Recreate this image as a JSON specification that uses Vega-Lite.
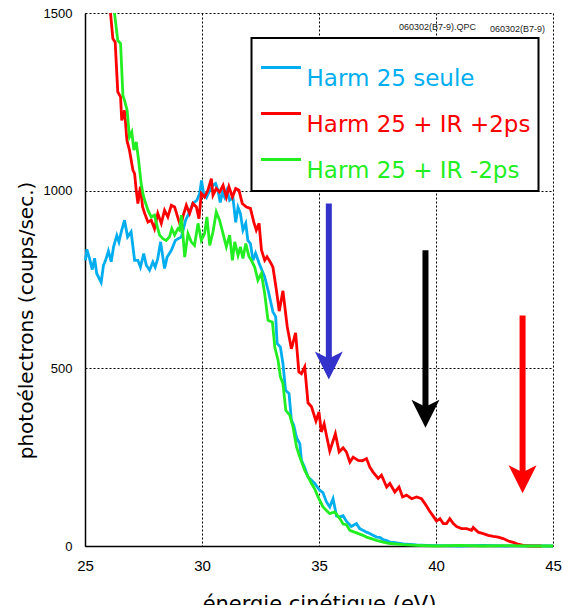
{
"$schema":"https://vega.github.io/schema/vega-lite/v6.json",
"width":468,"height":533,
"autosize":{"type":"none"},
"padding":{"left":85,"top":13,"right":10,"bottom":59},
"background":"white",
"config":{"view":{"stroke":null},"font":"DejaVu Sans"},
"datasets":{
"curves":[
{"s":"A","x":25.02,"y":804},{"s":"A","x":25.08,"y":835},{"s":"A","x":25.19,"y":810},{"s":"A","x":25.31,"y":778},{"s":"A","x":25.41,"y":810},{"s":"A","x":25.50,"y":767},{"s":"A","x":25.69,"y":742},{"s":"A","x":25.79,"y":790},{"s":"A","x":25.88,"y":804},{"s":"A","x":26.00,"y":830},{"s":"A","x":26.12,"y":800},{"s":"A","x":26.22,"y":842},{"s":"A","x":26.36,"y":874},{"s":"A","x":26.45,"y":856},{"s":"A","x":26.55,"y":884},{"s":"A","x":26.69,"y":917},{"s":"A","x":26.82,"y":870},{"s":"A","x":26.97,"y":884},{"s":"A","x":27.12,"y":804},{"s":"A","x":27.26,"y":804},{"s":"A","x":27.37,"y":785},{"s":"A","x":27.51,"y":823},{"s":"A","x":27.62,"y":790},{"s":"A","x":27.76,"y":776},{"s":"A","x":27.90,"y":799},{"s":"A","x":28.00,"y":785},{"s":"A","x":28.11,"y":809},{"s":"A","x":28.23,"y":856},{"s":"A","x":28.40,"y":781},{"s":"A","x":28.51,"y":813},{"s":"A","x":28.69,"y":832},{"s":"A","x":28.86,"y":860},{"s":"A","x":29.12,"y":870},{"s":"A","x":29.30,"y":917},{"s":"A","x":29.44,"y":936},{"s":"A","x":29.61,"y":964},{"s":"A","x":29.78,"y":973},{"s":"A","x":29.90,"y":992},{"s":"A","x":29.98,"y":1029},{"s":"A","x":30.07,"y":992},{"s":"A","x":30.19,"y":981},{"s":"A","x":30.33,"y":1001},{"s":"A","x":30.47,"y":1015},{"s":"A","x":30.58,"y":1020},{"s":"A","x":30.68,"y":1001},{"s":"A","x":30.78,"y":967},{"s":"A","x":30.87,"y":995},{"s":"A","x":30.97,"y":981},{"s":"A","x":31.07,"y":1001},{"s":"A","x":31.18,"y":973},{"s":"A","x":31.32,"y":981},{"s":"A","x":31.44,"y":911},{"s":"A","x":31.54,"y":953},{"s":"A","x":31.64,"y":936},{"s":"A","x":31.75,"y":889},{"s":"A","x":31.87,"y":908},{"s":"A","x":31.96,"y":860},{"s":"A","x":32.07,"y":851},{"s":"A","x":32.18,"y":804},{"s":"A","x":32.29,"y":824},{"s":"A","x":32.44,"y":796},{"s":"A","x":32.68,"y":757},{"s":"A","x":32.86,"y":710},{"s":"A","x":33.03,"y":659},{"s":"A","x":33.15,"y":645},{"s":"A","x":33.21,"y":570},{"s":"A","x":33.35,"y":560},{"s":"A","x":33.46,"y":513},{"s":"A","x":33.57,"y":438},{"s":"A","x":33.72,"y":429},{"s":"A","x":33.82,"y":354},{"s":"A","x":33.92,"y":340},{"s":"A","x":34.04,"y":305},{"s":"A","x":34.18,"y":288},{"s":"A","x":34.25,"y":241},{"s":"A","x":34.39,"y":220},{"s":"A","x":34.53,"y":194},{"s":"A","x":34.68,"y":185},{"s":"A","x":34.82,"y":176},{"s":"A","x":35.03,"y":157},{"s":"A","x":35.17,"y":150},{"s":"A","x":35.32,"y":124},{"s":"A","x":35.46,"y":110},{"s":"A","x":35.60,"y":133},{"s":"A","x":35.75,"y":84},{"s":"A","x":35.89,"y":82},{"s":"A","x":36.03,"y":85},{"s":"A","x":36.17,"y":70},{"s":"A","x":36.38,"y":55},{"s":"A","x":36.60,"y":63},{"s":"A","x":36.74,"y":49},{"s":"A","x":36.88,"y":44},{"s":"A","x":37.03,"y":39},{"s":"A","x":37.17,"y":35},{"s":"A","x":37.31,"y":30},{"s":"A","x":37.46,"y":25},{"s":"A","x":37.60,"y":24},{"s":"A","x":37.74,"y":18},{"s":"A","x":37.89,"y":15},{"s":"A","x":38.03,"y":11},{"s":"A","x":38.17,"y":10},{"s":"A","x":38.60,"y":6},{"s":"A","x":39.17,"y":3},{"s":"A","x":39.60,"y":2},{"s":"A","x":40.20,"y":1},{"s":"A","x":41.00,"y":0},{"s":"A","x":42.00,"y":2},{"s":"A","x":43.00,"y":0},{"s":"A","x":44.00,"y":1},{"s":"A","x":45.00,"y":0},
{"s":"B","x":26.09,"y":1500},{"s":"B","x":26.19,"y":1428},{"s":"B","x":26.29,"y":1418},{"s":"B","x":26.40,"y":1278},{"s":"B","x":26.52,"y":1264},{"s":"B","x":26.57,"y":1198},{"s":"B","x":26.69,"y":1226},{"s":"B","x":26.79,"y":1142},{"s":"B","x":26.90,"y":1114},{"s":"B","x":27.05,"y":1057},{"s":"B","x":27.12,"y":1048},{"s":"B","x":27.19,"y":1001},{"s":"B","x":27.26,"y":964},{"s":"B","x":27.37,"y":1011},{"s":"B","x":27.46,"y":955},{"s":"B","x":27.55,"y":936},{"s":"B","x":27.69,"y":912},{"s":"B","x":27.83,"y":917},{"s":"B","x":27.97,"y":893},{"s":"B","x":28.11,"y":936},{"s":"B","x":28.26,"y":908},{"s":"B","x":28.40,"y":945},{"s":"B","x":28.54,"y":926},{"s":"B","x":28.69,"y":959},{"s":"B","x":28.83,"y":954},{"s":"B","x":29.00,"y":917},{"s":"B","x":29.09,"y":900},{"s":"B","x":29.18,"y":926},{"s":"B","x":29.33,"y":959},{"s":"B","x":29.47,"y":936},{"s":"B","x":29.61,"y":964},{"s":"B","x":29.76,"y":954},{"s":"B","x":29.87,"y":921},{"s":"B","x":29.97,"y":992},{"s":"B","x":30.11,"y":982},{"s":"B","x":30.25,"y":1001},{"s":"B","x":30.40,"y":1034},{"s":"B","x":30.47,"y":987},{"s":"B","x":30.61,"y":1006},{"s":"B","x":30.75,"y":996},{"s":"B","x":30.90,"y":1015},{"s":"B","x":31.04,"y":982},{"s":"B","x":31.15,"y":1011},{"s":"B","x":31.30,"y":982},{"s":"B","x":31.44,"y":1006},{"s":"B","x":31.58,"y":1001},{"s":"B","x":31.72,"y":964},{"s":"B","x":31.90,"y":954},{"s":"B","x":32.07,"y":950},{"s":"B","x":32.21,"y":912},{"s":"B","x":32.32,"y":889},{"s":"B","x":32.44,"y":908},{"s":"B","x":32.54,"y":833},{"s":"B","x":32.68,"y":804},{"s":"B","x":32.78,"y":814},{"s":"B","x":32.92,"y":799},{"s":"B","x":33.03,"y":785},{"s":"B","x":33.18,"y":720},{"s":"B","x":33.30,"y":661},{"s":"B","x":33.46,"y":718},{"s":"B","x":33.64,"y":618},{"s":"B","x":33.82,"y":555},{"s":"B","x":34.00,"y":600},{"s":"B","x":34.14,"y":490},{"s":"B","x":34.25,"y":485},{"s":"B","x":34.39,"y":504},{"s":"B","x":34.53,"y":403},{"s":"B","x":34.68,"y":392},{"s":"B","x":34.87,"y":352},{"s":"B","x":35.00,"y":377},{"s":"B","x":35.10,"y":321},{"s":"B","x":35.22,"y":344},{"s":"B","x":35.32,"y":311},{"s":"B","x":35.46,"y":267},{"s":"B","x":35.70,"y":316},{"s":"B","x":35.86,"y":265},{"s":"B","x":36.03,"y":276},{"s":"B","x":36.17,"y":265},{"s":"B","x":36.32,"y":236},{"s":"B","x":36.46,"y":250},{"s":"B","x":36.67,"y":241},{"s":"B","x":36.85,"y":240},{"s":"B","x":37.03,"y":246},{"s":"B","x":37.17,"y":222},{"s":"B","x":37.31,"y":208},{"s":"B","x":37.53,"y":190},{"s":"B","x":37.67,"y":199},{"s":"B","x":37.89,"y":166},{"s":"B","x":38.03,"y":176},{"s":"B","x":38.24,"y":152},{"s":"B","x":38.42,"y":166},{"s":"B","x":38.57,"y":138},{"s":"B","x":38.74,"y":143},{"s":"B","x":38.96,"y":133},{"s":"B","x":39.17,"y":138},{"s":"B","x":39.38,"y":133},{"s":"B","x":39.57,"y":115},{"s":"B","x":39.71,"y":100},{"s":"B","x":39.88,"y":84},{"s":"B","x":40.02,"y":70},{"s":"B","x":40.17,"y":77},{"s":"B","x":40.31,"y":63},{"s":"B","x":40.45,"y":63},{"s":"B","x":40.59,"y":77},{"s":"B","x":40.74,"y":63},{"s":"B","x":40.88,"y":55},{"s":"B","x":41.09,"y":49},{"s":"B","x":41.31,"y":49},{"s":"B","x":41.52,"y":44},{"s":"B","x":41.59,"y":52},{"s":"B","x":41.80,"y":39},{"s":"B","x":42.02,"y":35},{"s":"B","x":42.23,"y":30},{"s":"B","x":42.45,"y":27},{"s":"B","x":42.66,"y":25},{"s":"B","x":42.87,"y":21},{"s":"B","x":43.09,"y":14},{"s":"B","x":43.30,"y":10},{"s":"B","x":43.51,"y":5},{"s":"B","x":43.73,"y":2},{"s":"B","x":44.00,"y":0},{"s":"B","x":44.50,"y":0},
{"s":"C","x":26.26,"y":1500},{"s":"C","x":26.40,"y":1423},{"s":"C","x":26.52,"y":1414},{"s":"C","x":26.62,"y":1268},{"s":"C","x":26.69,"y":1254},{"s":"C","x":26.80,"y":1226},{"s":"C","x":26.90,"y":1151},{"s":"C","x":27.00,"y":1165},{"s":"C","x":27.09,"y":1114},{"s":"C","x":27.19,"y":1137},{"s":"C","x":27.29,"y":1086},{"s":"C","x":27.40,"y":1020},{"s":"C","x":27.48,"y":990},{"s":"C","x":27.55,"y":973},{"s":"C","x":27.69,"y":945},{"s":"C","x":27.83,"y":926},{"s":"C","x":27.97,"y":931},{"s":"C","x":28.09,"y":898},{"s":"C","x":28.19,"y":875},{"s":"C","x":28.33,"y":865},{"s":"C","x":28.47,"y":860},{"s":"C","x":28.61,"y":870},{"s":"C","x":28.71,"y":893},{"s":"C","x":28.83,"y":875},{"s":"C","x":28.97,"y":893},{"s":"C","x":29.04,"y":889},{"s":"C","x":29.12,"y":931},{"s":"C","x":29.26,"y":813},{"s":"C","x":29.40,"y":879},{"s":"C","x":29.54,"y":856},{"s":"C","x":29.68,"y":846},{"s":"C","x":29.83,"y":908},{"s":"C","x":29.97,"y":860},{"s":"C","x":30.11,"y":879},{"s":"C","x":30.21,"y":926},{"s":"C","x":30.33,"y":846},{"s":"C","x":30.47,"y":884},{"s":"C","x":30.61,"y":940},{"s":"C","x":30.75,"y":917},{"s":"C","x":30.90,"y":879},{"s":"C","x":31.04,"y":842},{"s":"C","x":31.18,"y":875},{"s":"C","x":31.30,"y":804},{"s":"C","x":31.40,"y":856},{"s":"C","x":31.54,"y":818},{"s":"C","x":31.64,"y":842},{"s":"C","x":31.75,"y":809},{"s":"C","x":31.87,"y":851},{"s":"C","x":32.01,"y":814},{"s":"C","x":32.11,"y":804},{"s":"C","x":32.25,"y":785},{"s":"C","x":32.39,"y":748},{"s":"C","x":32.54,"y":767},{"s":"C","x":32.68,"y":710},{"s":"C","x":32.82,"y":635},{"s":"C","x":33.01,"y":630},{"s":"C","x":33.11,"y":560},{"s":"C","x":33.25,"y":523},{"s":"C","x":33.35,"y":476},{"s":"C","x":33.46,"y":457},{"s":"C","x":33.58,"y":382},{"s":"C","x":33.75,"y":368},{"s":"C","x":33.89,"y":335},{"s":"C","x":34.04,"y":279},{"s":"C","x":34.18,"y":250},{"s":"C","x":34.39,"y":213},{"s":"C","x":34.53,"y":195},{"s":"C","x":34.68,"y":176},{"s":"C","x":34.82,"y":160},{"s":"C","x":34.96,"y":138},{"s":"C","x":35.17,"y":110},{"s":"C","x":35.32,"y":100},{"s":"C","x":35.46,"y":91},{"s":"C","x":35.67,"y":96},{"s":"C","x":35.89,"y":77},{"s":"C","x":36.03,"y":62},{"s":"C","x":36.17,"y":60},{"s":"C","x":36.32,"y":44},{"s":"C","x":36.60,"y":37},{"s":"C","x":36.88,"y":30},{"s":"C","x":37.03,"y":25},{"s":"C","x":37.17,"y":22},{"s":"C","x":37.46,"y":16},{"s":"C","x":37.74,"y":11},{"s":"C","x":38.03,"y":7},{"s":"C","x":38.60,"y":4},{"s":"C","x":39.17,"y":2},{"s":"C","x":40.00,"y":0},{"s":"C","x":41.00,"y":2},{"s":"C","x":42.00,"y":0},{"s":"C","x":43.00,"y":1},{"s":"C","x":44.00,"y":0},{"s":"C","x":45.00,"y":0}
],
"shafts":[
{"x":35.42,"y":964,"yb":508,"c":"#3333CC"},
{"x":39.55,"y":832,"yb":372,"c":"#000000"},
{"x":43.70,"y":649,"yb":188,"c":"#FF0000"}
],
"heads":[
{"x":35.42,"y":508,"c":"#3333CC"},
{"x":39.55,"y":372,"c":"#000000"},
{"x":43.70,"y":188,"c":"#FF0000"}
],
"notes":[
{"x":40.06,"y":1460,"t":"060302(B7-9).QPC"},
{"x":43.48,"y":1455,"t":"060302(B7-9)"}
]
},
"layer":[
{"data":{"name":"curves"},
 "mark":{"type":"line","strokeWidth":2.8},
 "encoding":{
  "x":{"field":"x","type":"quantitative","scale":{"domain":[25,45],"nice":false,"zero":false},
   "axis":{"values":[25,30,35,40,45],"title":"énergie cinétique (eV)","ticks":false,"labelFlush":false,"labelFont":"Liberation Sans","labelFontSize":15,"labelPadding":12,"labelColor":"black","domainColor":"black","domainWidth":1.5,"grid":true,"gridColor":"black","gridDash":[2,2],"gridOpacity":1,"gridWidth":1,"titleFont":"DejaVu Sans","titleFontSize":21,"titleFontWeight":"normal","titleColor":"black","titleY":64,"titleBaseline":"alphabetic"}},
  "y":{"field":"y","type":"quantitative","scale":{"domain":[0,1500],"nice":false},
   "axis":{"values":[0,500,1000,1500],"format":"d","title":"photoélectrons (coups/sec.)","ticks":false,"labelFlush":false,"labelFont":"Liberation Sans","labelFontSize":13,"labelPadding":13,"labelColor":"black","domainColor":"black","domainWidth":1.5,"grid":true,"gridColor":"black","gridDash":[2,2],"gridOpacity":1,"gridWidth":1,"titleFont":"DejaVu Sans","titleFontSize":20,"titleFontWeight":"normal","titleColor":"black","titleX":-53,"titleY":307,"titleBaseline":"alphabetic","titleAlign":"center"}},
  "color":{"field":"s","type":"nominal","scale":{"domain":["A","B","C"],"range":["#00AEEF","#FF0000","#22EE22"]},
   "legend":{"orient":"none","legendX":166.5,"legendY":25,"title":null,"symbolType":"stroke","symbolSize":1600,"symbolStrokeWidth":3,"labelFont":"DejaVu Sans","labelFontSize":23,"labelBaseline":"top","labelOffset":4,"labelLimit":400,"padding":8,"rowPadding":1,"labelExpr":"datum.value == 'A' ? 'Harm 25 seule' : datum.value == 'B' ? 'Harm 25 + IR +2ps' : 'Harm 25 + IR -2ps'","encode":{"legend":{"update":{"stroke":{"value":"black"},"strokeWidth":{"value":2},"fill":{"value":"white"}}},"labels":{"update":{"fill":{"scale":"color","field":"value"}}}}}}
 }},
{"data":{"name":"shafts"},
 "mark":{"type":"rule","strokeWidth":6},
 "encoding":{"x":{"field":"x","type":"quantitative"},"y":{"field":"y","type":"quantitative"},"y2":{"field":"yb"},"color":{"field":"c","type":"nominal","scale":null}}},
{"data":{"name":"heads"},
 "mark":{"type":"point","filled":true,"opacity":1,"shape":"M-1,-1L0,-0.5L1,-1L0,1Z","size":784},
 "encoding":{"x":{"field":"x","type":"quantitative"},"y":{"field":"y","type":"quantitative"},"color":{"field":"c","type":"nominal","scale":null}}},
{"data":{"name":"notes"},
 "mark":{"type":"text","font":"Liberation Sans","fontSize":9,"color":"#222222","align":"center","baseline":"middle"},
 "encoding":{"x":{"field":"x","type":"quantitative"},"y":{"field":"y","type":"quantitative"},"text":{"field":"t"}}}
]
}
